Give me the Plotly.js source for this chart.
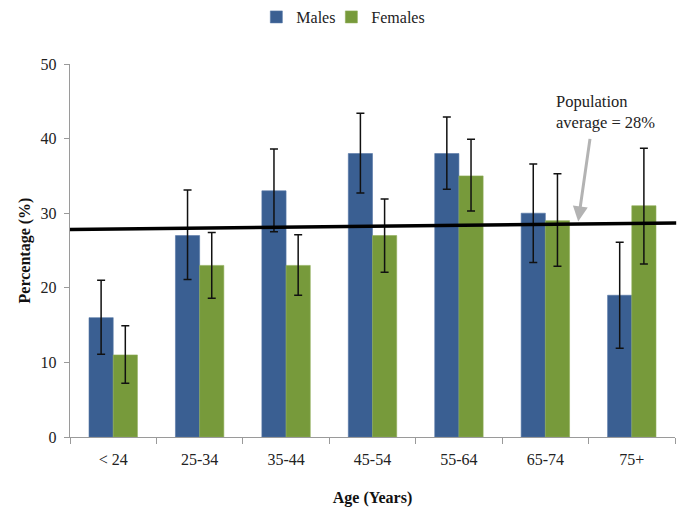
<!DOCTYPE html>
<html>
<head>
<meta charset="utf-8">
<script src="https://cdn.plot.ly/plotly-3.0.1.min.js"></script>
<style>html,body{margin:0;padding:0;background:#fff}#chart{width:683px;height:508px}</style>
</head>
<body>
<div id="chart"></div>
<script>
const categories = ['< 24', '25-34', '35-44', '45-54', '55-64', '65-74', '75+'];
const males = [16, 27, 33, 38, 38, 30, 19];
const malesErrPlus = [5.0, 6.1, 5.6, 5.4, 4.9, 6.6, 7.1];
const malesErrMinus = [4.9, 5.9, 5.5, 5.3, 4.8, 6.6, 7.1];
const females = [11, 23, 23, 27, 35, 29, 31];
const femalesErrPlus = [3.9, 4.4, 4.1, 4.9, 4.9, 6.3, 7.7];
const femalesErrMinus = [3.8, 4.4, 4.0, 4.9, 4.7, 6.1, 7.8];
const averageLine = [27.8, 28.7];
const yTicks = [0, 10, 20, 30, 40, 50];

const serif = 'Liberation Serif, Times New Roman, serif';

const traces = [
  {
    type: 'bar', name: 'Males', x: categories, y: males, legend: 'legend',
    marker: {color: '#3a5f92', line: {color: '#5677a6', width: 0.6}},
    error_y: {type: 'data', symmetric: false, array: malesErrPlus, arrayminus: malesErrMinus,
              color: '#111', thickness: 1.5, width: 4}
  },
  {
    type: 'bar', name: 'Females', x: categories, y: females, legend: 'legend2',
    marker: {color: '#779a3b', line: {color: '#8fad57', width: 0.6}},
    error_y: {type: 'data', symmetric: false, array: femalesErrPlus, arrayminus: femalesErrMinus,
              color: '#111', thickness: 1.5, width: 4}
  }
];

const legendBase = {orientation: 'h', yref: 'container', y: 1.0, yanchor: 'top',
                    xanchor: 'left', font: {family: serif, size: 16, color: '#222'},
                    itemwidth: 30, bgcolor: 'rgba(0,0,0,0)'};

const layout = {
  width: 683, height: 508,
  margin: {l: 70, r: 8, t: 64, b: 71},
  paper_bgcolor: '#fff', plot_bgcolor: '#fff',
  font: {family: serif, size: 16, color: '#222'},
  barmode: 'group', bargap: 0.44, bargroupgap: 0,
  showlegend: true,
  legend: Object.assign({}, legendBase, {x: 0.308}),
  legend2: Object.assign({}, legendBase, {x: 0.432}),
  xaxis: {
    type: 'category', showline: true, linecolor: '#9a9a9a', linewidth: 1.2,
    ticks: 'outside', tickson: 'boundaries', ticklen: 6, tickcolor: '#9a9a9a',
    showgrid: false, zeroline: false, ticklabelstandoff: 8,
    tickfont: {family: serif, size: 16, color: '#222'},
    title: {text: '<b>Age (Years)</b>', font: {family: serif, size: 16, color: '#111'}, standoff: 24}
  },
  yaxis: {
    range: [0, 50], tickvals: yTicks, showline: true, linecolor: '#9a9a9a', linewidth: 1.2,
    ticks: 'outside', ticklen: 5, tickcolor: '#9a9a9a', showgrid: false, zeroline: false,
    ticklabelstandoff: 4,
    tickfont: {family: serif, size: 16, color: '#222'},
    title: {text: '<b>Percentage (%)</b>', font: {family: serif, size: 16, color: '#111'}, standoff: 6}
  },
  shapes: [{
    type: 'line', xref: 'paper', yref: 'y', x0: 0, x1: 1.002,
    y0: averageLine[0], y1: averageLine[1],
    line: {color: '#000', width: 3.5}, layer: 'above'
  }],
  annotations: [
    {
      xref: 'paper', yref: 'paper', x: 0.8, y: 0.93, xanchor: 'left', yanchor: 'top',
      align: 'left', showarrow: false, text: 'Population<br>average = 28%',
      font: {family: serif, size: 16.5, color: '#222'}
    },
    {
      xref: 'x', yref: 'y', x: 5.38, y: 28.9, text: '', showarrow: true,
      ax: 12, ay: -84, arrowhead: 2, arrowsize: 1, arrowwidth: 3, arrowcolor: '#b3b3b3'
    }
  ]
};

Plotly.newPlot('chart', traces, layout, {displayModeBar: false, staticPlot: true});
</script>
</body>
</html>
